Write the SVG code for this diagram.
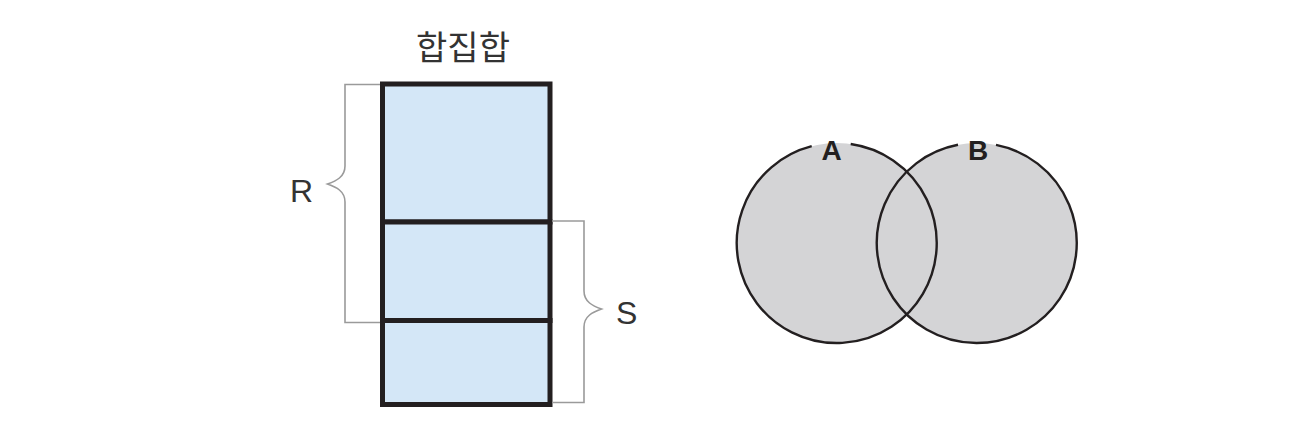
<svg xmlns="http://www.w3.org/2000/svg" width="1294" height="448" viewBox="0 0 1294 448">
<style>
.cell{fill:#d4e7f7;stroke:#231f20;stroke-width:5}
.brace{fill:none;stroke:#9a9a9a;stroke-width:1.6}
.lbl{font-family:"Liberation Sans",Arial,sans-serif;font-size:32px;fill:#333;font-weight:300}
.title{font-family:"Noto Sans CJK KR","Noto Sans",sans-serif;font-size:34px;fill:#333;text-anchor:middle}
.venn-fill{fill:#d4d4d6;stroke:none}
.venn-line{fill:none;stroke:#231f20;stroke-width:2.4}
.vlbl{font-family:"Liberation Sans",Arial,sans-serif;font-size:28px;font-weight:bold;fill:#231f20;text-anchor:middle}
</style>
<rect width="1294" height="448" fill="#ffffff"/>
<g id="title"><text class="title" x="463" y="60">합집합</text></g>
<g id="union-table">
  <rect class="cell" x="382.5" y="84" width="167.5" height="138"/>
  <rect class="cell" x="382.5" y="222" width="167.5" height="98.5"/>
  <rect class="cell" x="382.5" y="320.5" width="167.5" height="84"/>
</g>
<g id="connectors">
  <path class="brace" d="M380 84.5 H345 V166 C345 177 336 181 327.5 184 C336 187 345 191 345 202 V322.5 H380"/>
  <path class="brace" d="M552 221 H584 V291 C584 302 593 306 601.5 309 C593 312 584 316 584 327 V402.5 H552"/>
</g>
<g id="label-R"><text class="lbl" x="290" y="202">R</text></g>
<g id="label-S"><text class="lbl" x="616" y="324">S</text></g>
<g id="venn">
  <circle class="venn-fill" cx="836.7" cy="243" r="100"/>
  <circle class="venn-fill" cx="976.7" cy="243" r="100"/>
  <path class="venn-line" d="M850.7 144 A100 100 0 1 1 811.7 146.2"/>
  <path class="venn-line" d="M996 144.9 A100 100 0 1 1 958 144.8"/>
  <text class="vlbl" x="831.5" y="160">A</text>
  <text class="vlbl" x="978" y="160">B</text>
</g>
</svg>
